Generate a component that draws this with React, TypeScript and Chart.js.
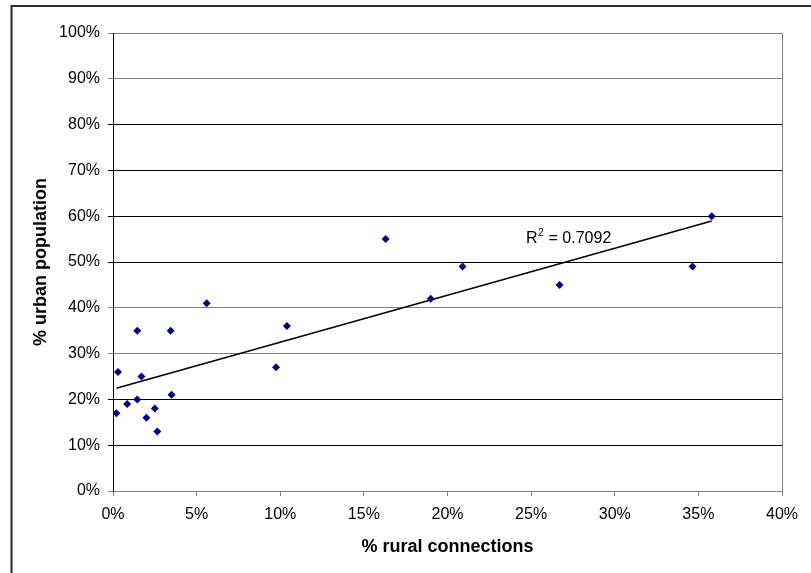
import React, { useEffect, useRef } from 'react';
import { Chart, registerables } from 'chart.js';

Chart.register(...registerables);

// % rural connections (x) and % urban population (y) for each country
const ruralConnections = [0.3, 1.7, 0.2, 0.85, 1.45, 3.5, 2.5, 2.0, 2.65, 1.45, 3.45, 5.6, 10.4, 9.75, 19.0, 20.9, 26.7, 34.65, 16.3, 35.8];
const urbanPopulation = [26, 25, 17, 19, 20, 21, 18, 16, 13, 35, 35, 41, 36, 27, 42, 49, 45, 49, 55, 60];

const xAxisTitle = '% rural connections';
const yAxisTitle = '% urban population';
const rSquaredValue = '0.7092';

const xMin = 0;
const xMax = 40;
const xStep = 5;
const yMin = 0;
const yMax = 100;
const yStep = 10;

const FONT = '"Liberation Sans", Arial, sans-serif';

function linearFit(xs: number[], ys: number[]) {
  const n = xs.length;
  const mx = xs.reduce((a, b) => a + b, 0) / n;
  const my = ys.reduce((a, b) => a + b, 0) / n;
  let sxy = 0;
  let sxx = 0;
  for (let i = 0; i < n; i++) {
    sxy += (xs[i] - mx) * (ys[i] - my);
    sxx += (xs[i] - mx) * (xs[i] - mx);
  }
  const slope = sxy / sxx;
  return { slope, intercept: my - slope * mx };
}

const framePlugin = {
  id: 'frame',
  beforeDraw(chart: any) {
    const { ctx, width, height } = chart;
    ctx.save();
    ctx.fillStyle = '#ffffff';
    ctx.fillRect(0, 0, width, height);
    ctx.restore();
  },
  afterDraw(chart: any) {
    const { ctx, chartArea, width, height } = chart;
    ctx.save();
    // outer chart border (top and left visible)
    ctx.strokeStyle = '#2a2a2a';
    ctx.lineWidth = 2;
    ctx.beginPath();
    ctx.moveTo(11.5, height);
    ctx.lineTo(11.5, 6);
    ctx.lineTo(width, 6);
    ctx.stroke();
    // plot area right border
    ctx.strokeStyle = '#808080';
    ctx.lineWidth = 1;
    ctx.beginPath();
    ctx.moveTo(Math.round(chartArea.right) + 0.5, chartArea.top);
    ctx.lineTo(Math.round(chartArea.right) + 0.5, chartArea.bottom);
    ctx.stroke();
    // R² label
    const x0 = 526;
    const base = 243;
    ctx.fillStyle = '#000';
    ctx.textBaseline = 'alphabetic';
    ctx.textAlign = 'left';
    ctx.font = `16px ${FONT}`;
    ctx.fillText('R', x0, base);
    const rw = ctx.measureText('R').width;
    ctx.font = `10px ${FONT}`;
    ctx.fillText('2', x0 + rw + 0.5, base - 7);
    const sw = ctx.measureText('2').width;
    ctx.font = `16px ${FONT}`;
    ctx.fillText(' = ' + rSquaredValue, x0 + rw + sw + 1, base);
    ctx.restore();
  },
};

export default function App() {
  const canvasRef = useRef<HTMLCanvasElement | null>(null);

  useEffect(() => {
    if (!canvasRef.current) return;
    const { slope, intercept } = linearFit(ruralConnections, urbanPopulation);
    const lo = Math.min(...ruralConnections);
    const hi = Math.max(...ruralConnections);
    const trend = [
      { x: lo, y: intercept + slope * lo },
      { x: hi, y: intercept + slope * hi },
    ];
    const points = ruralConnections.map((x, i) => ({ x, y: urbanPopulation[i] }));
    const grayTicks = [0, 30, 40, 90, 100];

    const chart = new Chart(canvasRef.current, {
      type: 'scatter',
      data: {
        datasets: [
          {
            label: 'Trend',
            data: trend,
            showLine: true,
            borderColor: '#000',
            borderWidth: 1.5,
            pointRadius: 0,
            fill: false,
            order: 2,
          },
          {
            label: 'Countries',
            data: points,
            pointStyle: 'rectRot',
            pointRadius: 4,
            pointBackgroundColor: '#000080',
            pointBorderColor: '#000080',
            pointBorderWidth: 0,
            order: 1,
          },
        ],
      },
      options: {
        responsive: false,
        animation: false,
        layout: { padding: { left: 0, top: 33, right: 29, bottom: 0 } },
        plugins: {
          legend: { display: false },
          tooltip: { enabled: false },
          title: { display: false },
        },
        scales: {
          x: {
            type: 'linear',
            min: xMin,
            max: xMax,
            afterFit: (s: any) => { s.height = 82; },
            ticks: {
              stepSize: xStep,
              color: '#000',
              padding: 9,
              font: { family: FONT, size: 16 },
              callback: (v: any) => `${v}%`,
              maxRotation: 0,
            },
            grid: {
              drawOnChartArea: false,
              drawTicks: true,
              tickLength: 5,
              color: '#808080',
            },
            border: { color: '#808080', width: 1 },
            title: {
              display: true,
              text: xAxisTitle,
              color: '#000',
              font: { family: FONT, size: 18, weight: 'bold' },
              padding: { top: 0, bottom: 15 },
            },
          },
          y: {
            type: 'linear',
            min: yMin,
            max: yMax,
            afterFit: (s: any) => { s.width = 113; },
            ticks: {
              stepSize: yStep,
              color: '#000',
              padding: 8,
              font: { family: FONT, size: 16 },
              callback: (v: any) => `${v}%`,
            },
            grid: {
              drawTicks: true,
              tickLength: 5,
              color: (c: any) => (c.tick && grayTicks.includes(c.tick.value) ? '#808080' : '#000000'),
              lineWidth: 1,
            },
            border: { color: '#000', width: 1 },
            title: {
              display: true,
              text: yAxisTitle,
              color: '#000',
              font: { family: FONT, size: 18, weight: 'bold' },
              padding: { top: 30, bottom: 0 },
            },
          },
        },
      },
      plugins: [framePlugin],
    });
    return () => chart.destroy();
  }, []);

  return (
    <div style={{ position: 'absolute', left: 0, top: 0, width: 811, height: 573 }}>
      <canvas ref={canvasRef} width={811} height={573} />
    </div>
  );
}
